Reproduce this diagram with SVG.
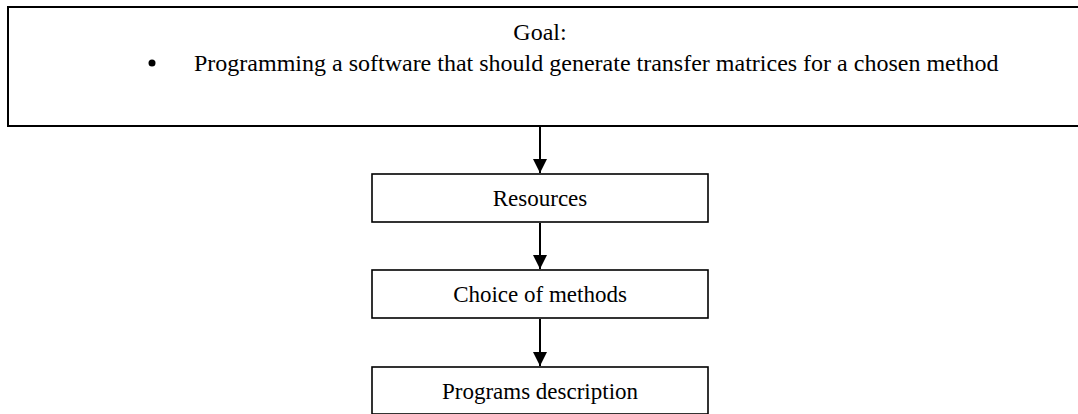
<svg xmlns="http://www.w3.org/2000/svg" width="1078" height="414" viewBox="0 0 1078 414">
  <style>
    .box { fill: #ffffff; stroke: #000000; stroke-width: 1.6; }
    .goal { fill: #ffffff; stroke: #000000; stroke-width: 2; }
    .txt { font-family: "Liberation Serif", "Times New Roman", serif; font-size: 23px; fill: #000000; }
    .big { font-size: 24px; }
    .conn { stroke: #000000; stroke-width: 2; fill: none; marker-end: url(#arrow); }
  </style>
  <defs>
    <marker id="arrow" viewBox="0 0 14 14" refX="14" refY="7" markerWidth="14" markerHeight="14" orient="auto" markerUnits="userSpaceOnUse">
      <path d="M0,0 L14,7 L0,14 Z" fill="#000000"/>
    </marker>
  </defs>
  <rect width="1078" height="414" fill="#ffffff"/>
  <g id="goal">
    <rect class="goal" x="8" y="7" width="1080" height="119"/>
    <text class="txt big" x="540" y="40" text-anchor="middle">Goal:</text>
    <circle cx="152" cy="63" r="3.5" fill="#000000"/>
    <text class="txt big" x="194" y="71">Programming a software that should generate transfer matrices for a chosen method</text>
  </g>
  <g id="resources">
    <rect class="box" x="372" y="174" width="336" height="48"/>
    <text class="txt" x="540" y="206" text-anchor="middle">Resources</text>
  </g>
  <g id="choice">
    <rect class="box" x="372" y="270" width="336" height="48"/>
    <text class="txt" x="540" y="302" text-anchor="middle">Choice of methods</text>
  </g>
  <g id="programs">
    <rect class="box" x="372" y="367" width="336" height="47"/>
    <text class="txt" x="540" y="399" text-anchor="middle">Programs description</text>
  </g>
  <g id="connectors">
    <line class="conn" x1="540" y1="127" x2="540" y2="173"/>
    <line class="conn" x1="540" y1="223" x2="540" y2="269"/>
    <line class="conn" x1="540" y1="319" x2="540" y2="366"/>
  </g>
</svg>
